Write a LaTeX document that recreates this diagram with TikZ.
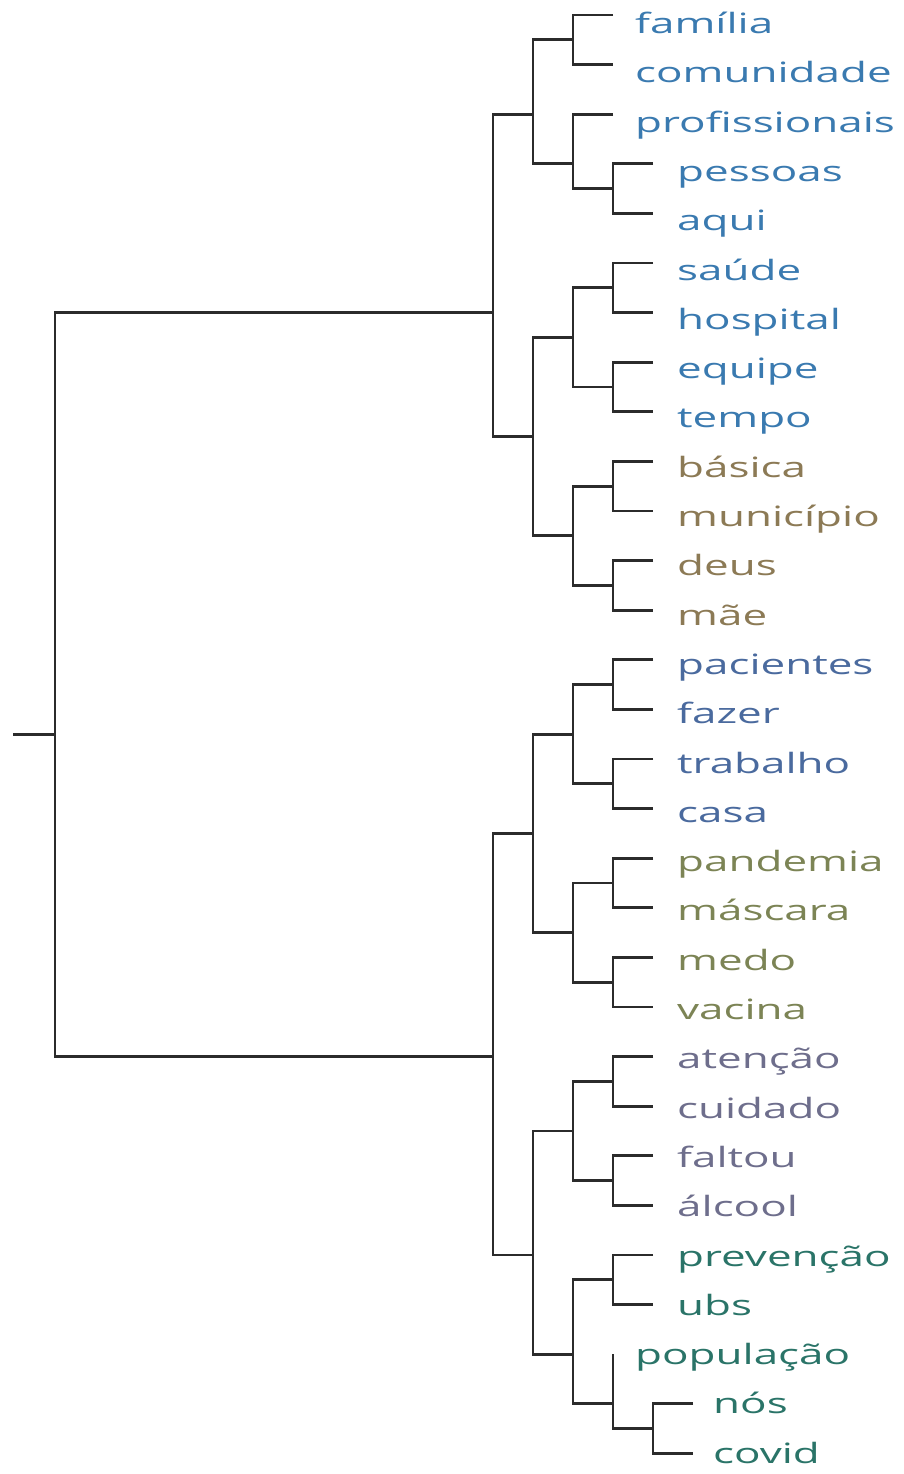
\documentclass[tikz,border=0pt]{standalone}
\usepackage{fontspec}
\usepackage{graphicx}
\setmainfont{Open Sans}
\definecolor{cA}{HTML}{3A7AB0}
\definecolor{cB}{HTML}{8C7A55}
\definecolor{cC}{HTML}{4A6A9E}
\definecolor{cD}{HTML}{7C8455}
\definecolor{cE}{HTML}{6E6E8C}
\definecolor{cF}{HTML}{2A7468}
\definecolor{branchcol}{HTML}{2B2B2B}
\newcommand{\wide}[1]{\scalebox{1.57}[1]{#1}}
\begin{document}
\begin{tikzpicture}[x=1pt,y=-1pt,
  br/.style={draw=branchcol,line width=2.8pt,line join=miter},
  lbl/.style={anchor=base west,inner sep=0pt,font=\fontsize{28}{30}\selectfont}]
\useasboundingbox (0,0) rectangle (903,1474);
\fill[white] (0,0) rectangle (903,1474);
% leaves
\foreach \i/\ex/\tx/\col/\w in {
  0/613/635/cA/família, 1/613/635/cA/comunidade, 2/613/635/cA/profissionais,
  3/653/677/cA/pessoas, 4/653/677/cA/aqui,
  5/653/677/cA/saúde, 6/653/677/cA/hospital, 7/653/677/cA/equipe, 8/653/677/cA/tempo,
  9/653/677/cB/básica, 10/653/677/cB/município, 11/653/677/cB/deus, 12/653/677/cB/mãe,
  13/653/677/cC/pacientes, 14/653/677/cC/fazer, 15/653/677/cC/trabalho, 16/653/677/cC/casa,
  17/653/677/cD/pandemia, 18/653/677/cD/máscara, 19/653/677/cD/medo, 20/653/677/cD/vacina,
  21/653/677/cE/atenção, 22/653/677/cE/cuidado, 23/653/677/cE/faltou, 24/653/677/cE/álcool,
  25/653/677/cF/prevenção, 26/653/677/cF/ubs, 27/613/635/cF/população,
  28/693/713/cF/nós, 29/693/713/cF/covid}{
  \coordinate (e\i) at (\ex,{15+49.6*\i});
  \node[lbl,text=\col] (l\i) at (\tx,{33.5+49.3*\i}) {\wide{\w}};
}
% internal junctions (y = mean of leaf positions)
\coordinate (stub) at (13,{15+49.6*14.5});
\coordinate (R)   at (55,{15+49.6*14.5});
\coordinate (T)   at (493,{15+49.6*6});
\coordinate (Bt)  at (493,{15+49.6*21});
\coordinate (A)   at (533,{15+49.6*2});
\coordinate (A1)  at (573,{15+49.6*0.5});
\coordinate (A2)  at (573,{15+49.6*3});
\coordinate (A2b) at (613,{15+49.6*3.5});
\coordinate (B)   at (533,{15+49.6*8.5});
\coordinate (B1)  at (573,{15+49.6*6.5});
\coordinate (B1a) at (613,{15+49.6*5.5});
\coordinate (B1b) at (613,{15+49.6*7.5});
\coordinate (B2)  at (573,{15+49.6*10.5});
\coordinate (B2a) at (613,{15+49.6*9.5});
\coordinate (B2b) at (613,{15+49.6*11.5});
\coordinate (C)   at (533,{15+49.6*16.5});
\coordinate (C1)  at (573,{15+49.6*14.5});
\coordinate (C1a) at (613,{15+49.6*13.5});
\coordinate (C1b) at (613,{15+49.6*15.5});
\coordinate (C2)  at (573,{15+49.6*18.5});
\coordinate (C2a) at (613,{15+49.6*17.5});
\coordinate (C2b) at (613,{15+49.6*19.5});
\coordinate (D)   at (533,{15+49.6*25});
\coordinate (D1)  at (573,{15+49.6*22.5});
\coordinate (D1a) at (613,{15+49.6*21.5});
\coordinate (D1b) at (613,{15+49.6*23.5});
\coordinate (D2)  at (573,{15+49.6*27});
\coordinate (D2a) at (613,{15+49.6*25.5});
\coordinate (D2b) at (613,{15+49.6*28});
\coordinate (D2c) at (653,{15+49.6*28.5});
% branches
\draw[br] (stub) -- (R);
\draw[br] (T) -| (R) |- (Bt);
\draw[br] (A) -| (T) |- (B);
\draw[br] (C) -| (Bt) |- (D);
\draw[br] (A1) -| (A) |- (A2);
\draw[br] (e0) -| (A1) |- (e1);
\draw[br] (e2) -| (A2) |- (A2b);
\draw[br] (e3) -| (A2b) |- (e4);
\draw[br] (B1) -| (B) |- (B2);
\draw[br] (B1a) -| (B1) |- (B1b);
\draw[br] (e5) -| (B1a) |- (e6);
\draw[br] (e7) -| (B1b) |- (e8);
\draw[br] (B2a) -| (B2) |- (B2b);
\draw[br] (e9) -| (B2a) |- (e10);
\draw[br] (e11) -| (B2b) |- (e12);
\draw[br] (C1) -| (C) |- (C2);
\draw[br] (C1a) -| (C1) |- (C1b);
\draw[br] (e13) -| (C1a) |- (e14);
\draw[br] (e15) -| (C1b) |- (e16);
\draw[br] (C2a) -| (C2) |- (C2b);
\draw[br] (e17) -| (C2a) |- (e18);
\draw[br] (e19) -| (C2b) |- (e20);
\draw[br] (D1) -| (D) |- (D2);
\draw[br] (D1a) -| (D1) |- (D1b);
\draw[br] (e21) -| (D1a) |- (e22);
\draw[br] (e23) -| (D1b) |- (e24);
\draw[br] (D2a) -| (D2) |- (D2b);
\draw[br] (e25) -| (D2a) |- (e26);
\draw[br] (e27) -| (D2b) |- (D2c);
\draw[br] (e28) -| (D2c) |- (e29);
\end{tikzpicture}
\end{document}
